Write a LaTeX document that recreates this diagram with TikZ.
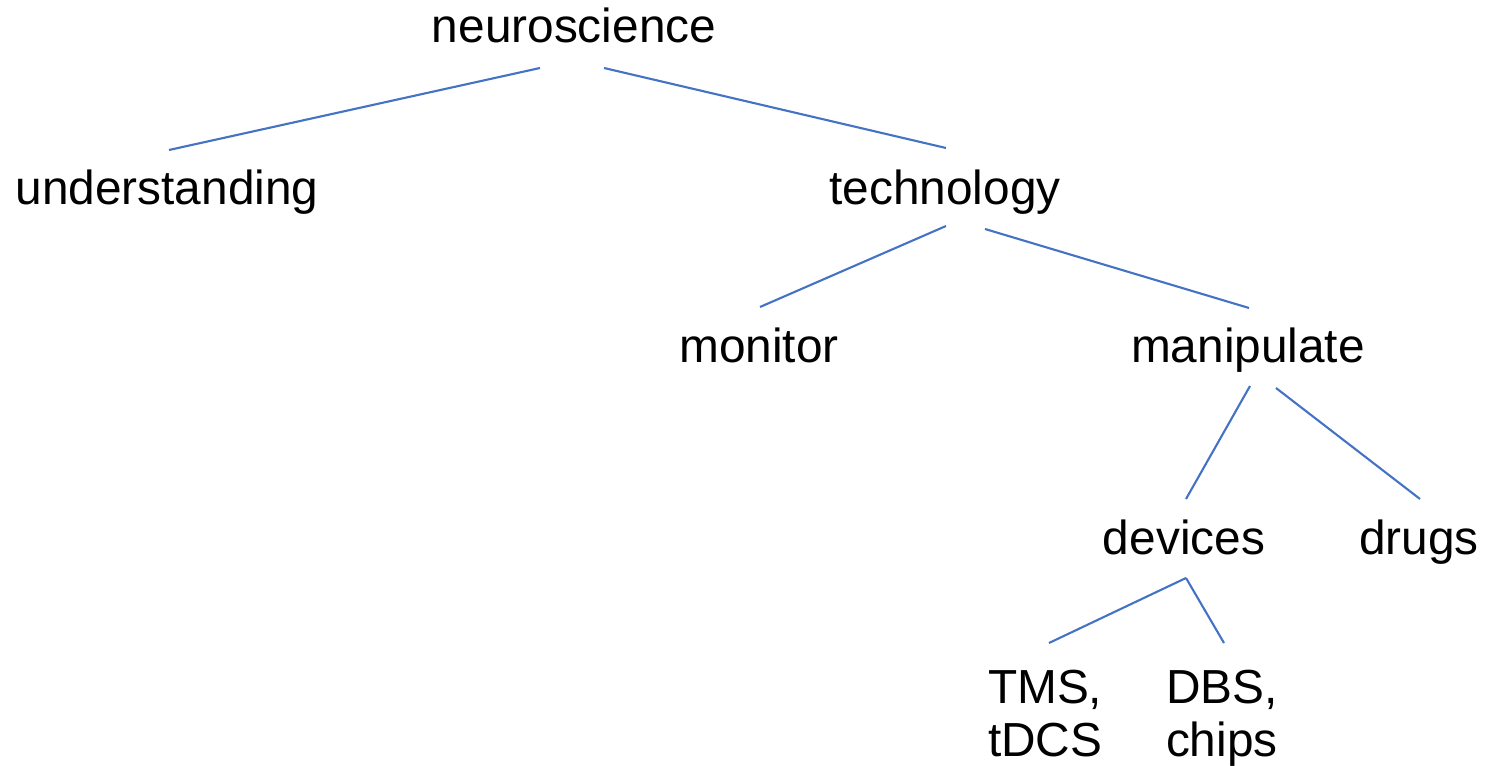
\documentclass[tikz,border=0pt]{standalone}
\usepackage{fontspec}
\setmainfont{Liberation Sans}
\definecolor{linkblue}{HTML}{4472C4}
\begin{document}
\begin{tikzpicture}[x=0.02cm,y=-0.02cm,
  lbl/.style={inner sep=0pt,outer sep=0pt,font=\fontsize{27.2}{30.6}\selectfont,anchor=base},
  lbl2/.style={lbl,align=left,anchor=base west},
  link/.style={draw=linkblue,line width=1.2pt}]
\useasboundingbox (0,0) rectangle (1499,766);
% labels
\node[lbl] (neuro) at (574,43) {neuroscience};
\node[lbl] (under) at (167,205) {understanding};
\node[lbl] (tech) at (945,205) {technology};
\node[lbl] (monit) at (759,363) {monitor};
\node[lbl] (manip) at (1248,363) {manipulate};
\node[lbl] (devic) at (1184,555) {devices};
\node[lbl] (drugs) at (1419,555) {drugs};
\node[lbl2] (tms) at (988,757) {TMS,\\tDCS};
\node[lbl2] (dbs) at (1166,757) {DBS,\\chips};
% connector end points
\coordinate (neuroL) at (540,68);
\coordinate (neuroR) at (604,68);
\coordinate (underT) at (169,150);
\coordinate (techT) at (946,148);
\coordinate (techL) at (946,226);
\coordinate (techR) at (985,229);
\coordinate (monitT) at (760,307);
\coordinate (manipT) at (1249,308);
\coordinate (manipL) at (1250,386);
\coordinate (manipR) at (1276,388);
\coordinate (devicT) at (1186,499);
\coordinate (drugsT) at (1420,499);
\coordinate (devicB) at (1186,578);
\coordinate (tmsT) at (1049,643);
\coordinate (dbsT) at (1224,643);
% connectors
\draw[link] (neuroL) -- (underT);
\draw[link] (neuroR) -- (techT);
\draw[link] (techL) -- (monitT);
\draw[link] (techR) -- (manipT);
\draw[link] (manipL) -- (devicT);
\draw[link] (manipR) -- (drugsT);
\draw[link] (devicB) -- (tmsT);
\draw[link] (devicB) -- (dbsT);
\end{tikzpicture}
\end{document}
